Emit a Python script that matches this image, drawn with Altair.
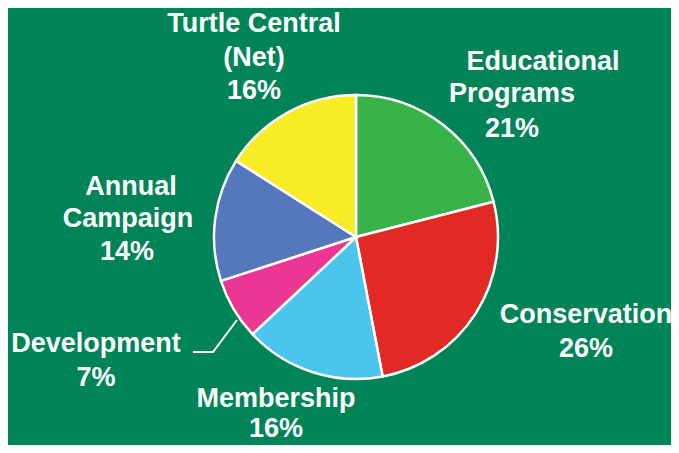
import altair as alt
import pandas as pd

# ---------------- data ----------------
categories = ["Educational Programs", "Conservation", "Membership",
              "Development", "Annual Campaign", "Turtle Central (Net)"]
values = [21, 26, 16, 7, 14, 16]
label_lines = [["Educational", "Programs"], ["Conservation"], ["Membership"],
               ["Development"], ["Annual", "Campaign"], ["Turtle Central", "(Net)"]]

# ---------------- style / layout ----------------
colors = ["#37b34a", "#e32926", "#4bc5ee", "#ec3694", "#5477be", "#f7ec26"]
BG = "#008457"
W, H = 663, 437
OFF = 8  # page margin offset
CENTER = (356 - OFF, 237 - OFF)
RADIUS = 142
FONT = "Liberation Sans"
FS = 27
# anchor (center x, baseline y) of each text line per category, page coordinates
label_pos = [
    [(543, 70), (512, 102), (512, 137)],
    [(586, 323), (586, 357)],
    [(276, 407), (276, 437)],
    [(96, 352), (96, 386)],
    [(131, 195), (128, 227), (127, 260)],
    [(254, 32), (254, 66), (254, 99)],
]
leader = [(193, 352), (213, 352), (237, 320)]

# ---------------- build tables ----------------
pie_df = pd.DataFrame({"cat": categories, "value": values, "idx": range(len(values))})

rows = []
for cat, v, lines, pos in zip(categories, values, label_lines, label_pos):
    texts = lines + [f"{v}%"]
    for t, (px, py) in zip(texts, pos):
        rows.append({"t": t, "px": px - OFF, "py": py - OFF})
lab_df = pd.DataFrame(rows)
lead_df = pd.DataFrame({"px": [p[0] - OFF for p in leader],
                        "py": [p[1] - OFF for p in leader],
                        "o": range(len(leader))})

xs = alt.Scale(domain=[0, W], range=[0, W], zero=False, nice=False)
ys = alt.Scale(domain=[0, H], range=[0, H], zero=False, nice=False)

pie = alt.Chart(pie_df).mark_arc(radius=RADIUS, stroke="white", strokeWidth=2.5).encode(
    theta=alt.Theta("value:Q", stack=True),
    order=alt.Order("idx:Q"),
    color=alt.Color("cat:N", scale=alt.Scale(domain=categories, range=colors), legend=None),
    x=alt.value(CENTER[0]),
    y=alt.value(CENTER[1]),
)

labels = alt.Chart(lab_df).mark_text(
    font=FONT, fontSize=FS, fontWeight="bold", color="white",
    align="center", baseline="alphabetic"
).encode(
    x=alt.X("px:Q", scale=xs, axis=None),
    y=alt.Y("py:Q", scale=ys, axis=None),
    text="t:N",
)

lead = alt.Chart(lead_df).mark_line(color="white", strokeWidth=2).encode(
    x=alt.X("px:Q", scale=xs, axis=None),
    y=alt.Y("py:Q", scale=ys, axis=None),
    order="o:Q",
)

chart = alt.layer(pie, lead, labels).properties(
    width=W, height=H, padding=0,
    autosize=alt.AutoSizeParams(type="none"),
    background=BG,
).configure_view(stroke=None)

chart.save("out.html", embed_options={"renderer": "svg", "actions": False})
